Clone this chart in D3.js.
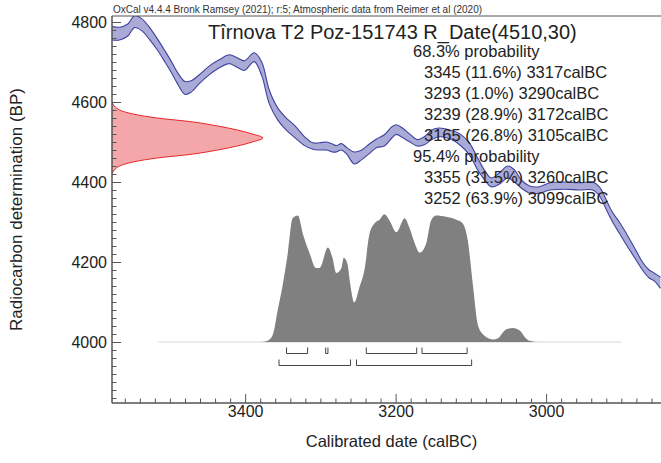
<!DOCTYPE html>
<html><head><meta charset="utf-8">
<script src="https://cdn.jsdelivr.net/npm/d3@7"></script>
<style>
html,body{margin:0;padding:0;background:#fff;}
svg{display:block;font-family:"Liberation Sans",Arial,Helvetica,sans-serif;}
</style></head>
<body>
<svg id="chart" width="661" height="463"></svg>
<script>
// ---------- data ----------
const headerText = "OxCal v4.4.4 Bronk Ramsey (2021); r:5; Atmospheric data from Reimer et al (2020)";
const titleText = "Tîrnova T2 Poz-151743 R_Date(4510,30)";
const xLabel = "Calibrated date (calBC)";
const yLabel = "Radiocarbon determination (BP)";

const xMajorTicks = [3400, 3200, 3000];
const yMajorTicks = [4800, 4600, 4400, 4200, 4000];

// calibration curve: calBC year, mean BP, 1-sigma BP
const calYears = [3577,3567,3556,3547,3538,3527,3516,3506,3498,3490,3480,3471,3461,3447,3434,3421,3410,3401,3388,3378,3368,3357,3346,3334,3321,3310,3301,3292,3284,3279,3272,3265,3255,3245,3235,3225,3215,3205,3199,3191,3182,3171,3162,3152,3142,3128,3115,3102,3091,3082,3073,3062,3051,3042,3033,3022,3009,2995,2975,2956,2938,2929,2920,2912,2902,2893,2882,2872,2863,2856,2848];
const calBP =    [4772,4771,4780,4801,4794,4771,4742,4712,4687,4660,4635,4640,4657,4680,4696,4707,4698,4691,4712,4683,4613,4571,4546,4526,4502,4490,4489,4490,4485,4483,4488,4478,4460,4468,4483,4497,4504,4524,4531,4523,4511,4498,4503,4518,4524,4519,4507,4483,4445,4418,4399,4409,4425,4415,4395,4381,4380,4389,4391,4389,4390,4376,4343,4313,4284,4256,4222,4190,4170,4162,4148];
const calSigma = [17,16,15,15,15,15,14,14,14,14,16,14,11,11,10,11,12,12,11,17,17,15,15,15,11,8,9,10,10,8,8,8,15,12,12,11,14,14,12,12,10,8,10,12,11,11,14,15,15,12,11,14,15,15,10,9,8,9,9,9,10,11,12,12,14,14,12,10,10,10,14];

// radiocarbon date R_Date(4510,30): BP level and relative density
const rBP =      [4600,4590,4580,4570,4560,4550,4540,4530,4520,4510,4500,4490,4480,4470,4460,4450,4440,4430,4420];
const rDensity = [0,0.015,0.05,0.14,0.30,0.54,0.70,0.83,0.93,1.0,0.93,0.83,0.70,0.54,0.30,0.14,0.05,0.015,0];

// calibrated posterior: calBC year, relative probability
const postYears = [3515,3380,3370,3363,3357,3350,3343,3337,3330,3323,3314,3306,3301,3290,3284,3279,3272,3269,3264,3261,3255,3248,3241,3235,3228,3221,3215,3208,3199,3188,3182,3175,3168,3159,3153,3146,3133,3120,3111,3104,3097,3091,3084,3071,3064,3053,3044,3035,3027,3022,3010,2900];
const postProb  = [0,0,0.01,0.06,0.24,0.45,0.71,0.97,0.99,0.84,0.69,0.58,0.58,0.74,0.66,0.54,0.58,0.66,0.61,0.48,0.31,0.43,0.58,0.84,0.93,0.96,1.0,0.95,0.86,0.97,0.90,0.78,0.70,0.78,0.95,0.99,0.98,0.96,0.93,0.79,0.43,0.14,0.06,0.02,0.03,0.10,0.11,0.09,0.03,0.01,0,0];

// ranges
const ranges68 = [[3345,3317],[3293,3290],[3239,3172],[3165,3105]];
const ranges95 = [[3355,3260],[3252,3099]];

const probLines = [
  {t:"68.3% probability", indent:0},
  {t:"3345 (11.6%) 3317calBC", indent:1},
  {t:"3293 (1.0%) 3290calBC", indent:1},
  {t:"3239 (28.9%) 3172calBC", indent:1},
  {t:"3165 (26.8%) 3105calBC", indent:1},
  {t:"95.4% probability", indent:0},
  {t:"3355 (31.5%) 3260calBC", indent:1},
  {t:"3252 (63.9%) 3099calBC", indent:1}
];

// ---------- layout ----------
(function(){
const W = 661, H = 463;
const pL = 112, pR = 671, pT = 16, pB = 403;
const svg = d3.select("#chart");

const x = d3.scaleLinear().domain([3577, 2834]).range([pL, pR]);
const y = d3.scaleLinear().domain([3847.5, 4815]).range([pB, pT]);

svg.append("defs").append("clipPath").attr("id","plotclip")
  .append("rect").attr("x",pL).attr("y",pT).attr("width",pR-pL).attr("height",pB-pT);

const plot = svg.append("g").attr("clip-path","url(#plotclip)");

// calibration curve band
const cal = calYears.map((yr,i)=>({yr, m:calBP[i], s:calSigma[i]}));
const curve = d3.curveCatmullRom.alpha(0.5);
plot.append("path").datum(cal)
  .attr("d", d3.area().x(d=>x(d.yr)).y0(d=>y(d.m-d.s)).y1(d=>y(d.m+d.s)).curve(curve))
  .attr("fill","#a9aad6").attr("stroke","none");
[1,-1].forEach(sgn=>{
  plot.append("path").datum(cal)
    .attr("d", d3.line().x(d=>x(d.yr)).y(d=>y(d.m+sgn*d.s)).curve(curve))
    .attr("fill","none").attr("stroke","#3f42a0").attr("stroke-width",1.1);
});

// radiocarbon date distribution (red)
const rWidth = d3.scaleLinear().domain([0,1]).range([pL, pL+151]);
const rdat = rBP.map((b,i)=>({b, d:rDensity[i]}));
plot.append("path").datum(rdat)
  .attr("d", d3.area().y(d=>y(d.b)).x0(pL).x1(d=>rWidth(d.d)).curve(d3.curveCatmullRom.alpha(0.5)))
  .attr("fill","#f3a7a9").attr("stroke","none");
plot.append("path").datum(rdat)
  .attr("d", d3.line().y(d=>y(d.b)).x(d=>rWidth(d.d)).curve(d3.curveCatmullRom.alpha(0.5)))
  .attr("fill","none").attr("stroke","#e8282c").attr("stroke-width",1);

// posterior (grey)
const baseY = y(4000);
const pH = d3.scaleLinear().domain([0,1]).range([baseY, baseY-127.7]);
svg.append("line").attr("x1",x(postYears[0])).attr("x2",x(postYears[postYears.length-1]))
  .attr("y1",baseY).attr("y2",baseY).attr("stroke","#d6d6d6").attr("stroke-width",1);
const post = postYears.map((yr,i)=>({yr, p:postProb[i]}));
svg.append("path").datum(post)
  .attr("d", d3.area().x(d=>x(d.yr)).y0(baseY).y1(d=>pH(d.p)).curve(d3.curveMonotoneX))
  .attr("fill","#808080");

// range brackets
function brackets(ranges, yLine){
  const g = svg.append("g").attr("stroke","#444").attr("stroke-width",1).attr("fill","none");
  ranges.forEach(r=>{
    const x1 = x(r[0]), x2 = x(r[1]);
    g.append("path").attr("d", `M${x1},${yLine-6}V${yLine}H${x2}V${yLine-6}`);
  });
}
brackets(ranges68, 353.5);
brackets(ranges95, 365.5);

// ---------- axes ----------
const axisCol = "#555";
svg.append("line").attr("x1",pL).attr("x2",W).attr("y1",pT).attr("y2",pT).attr("stroke",axisCol).attr("stroke-width",1);
const xMinor = d3.range(3560, 2830, -20).filter(v=>!xMajorTicks.includes(v));
svg.append("g").attr("transform",`translate(0,${pB})`)
  .call(d3.axisBottom(x).tickValues(xMinor).tickSizeInner(-4.5).tickSizeOuter(0).tickFormat(""))
  .call(g=>g.select(".domain").remove());
svg.append("g").attr("transform",`translate(0,${pB})`)
  .call(d3.axisBottom(x).tickValues(xMajorTicks).tickSizeInner(-9).tickSizeOuter(0).tickPadding(3).tickFormat(d3.format("d")))
  .call(g=>g.select(".domain").remove());
const yMinor = d3.range(3860, 4815, 20).filter(v=>!yMajorTicks.includes(v));
svg.append("g").attr("transform",`translate(${pL},0)`)
  .call(d3.axisLeft(y).tickValues(yMinor).tickSizeInner(-4.5).tickSizeOuter(0).tickFormat(""))
  .call(g=>g.select(".domain").remove());
svg.append("g").attr("transform",`translate(${pL},0)`)
  .call(d3.axisLeft(y).tickValues(yMajorTicks).tickSizeInner(-9).tickSizeOuter(0).tickPadding(5).tickFormat(d3.format("d")))
  .call(g=>g.select(".domain").remove());
svg.selectAll(".tick line").attr("stroke",axisCol).attr("stroke-width",1);
svg.selectAll(".tick text").attr("font-size",16).attr("fill","#222").attr("font-family","Liberation Sans, Arial, sans-serif");
svg.append("line").attr("x1",pL).attr("x2",pL).attr("y1",pT).attr("y2",pB).attr("stroke",axisCol).attr("stroke-width",1.5);
svg.append("line").attr("x1",pL).attr("x2",W).attr("y1",pB).attr("y2",pB).attr("stroke",axisCol).attr("stroke-width",1.5);

// ---------- texts ----------
svg.append("text").attr("x",113).attr("y",13).attr("font-size",10).attr("fill","#333").text(headerText);
svg.append("text").attr("x",208).attr("y",38.5).attr("font-size",20).attr("fill","#222").text(titleText);
probLines.forEach((l,i)=>{
  svg.append("text").attr("x", l.indent ? 424 : 413).attr("y", 57.3 + i*21)
    .attr("font-size",16.5).attr("fill","#222").text(l.t);
});
svg.append("text").attr("x",(pL+pR)/2).attr("y",447).attr("text-anchor","middle")
  .attr("font-size",16.5).attr("fill","#222").text(xLabel);
svg.append("text").attr("transform",`translate(16,${(pT+pB)/2}) rotate(-90)`)
  .attr("text-anchor","middle").attr("dominant-baseline","central")
  .attr("font-size",17).attr("fill","#222").text(yLabel);
})();
</script>
</body></html>
